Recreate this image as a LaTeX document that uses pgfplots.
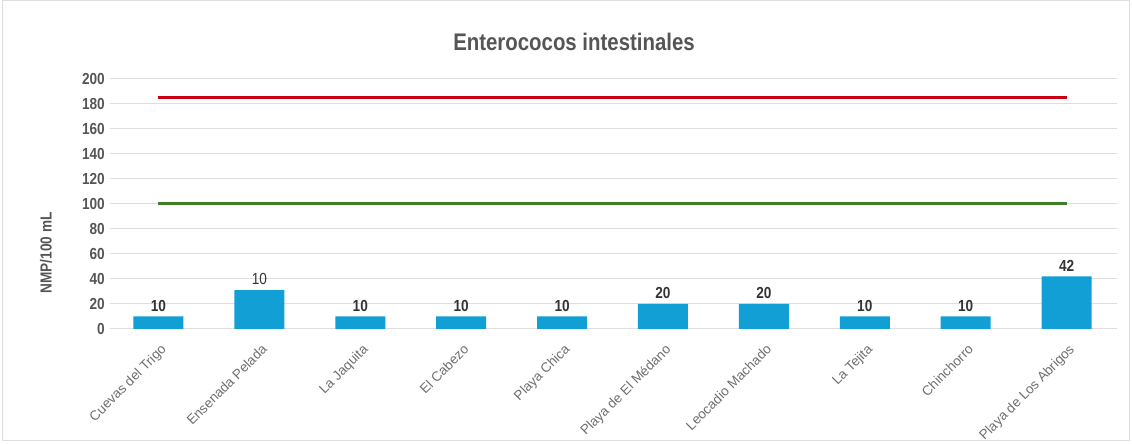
\documentclass[border=0pt]{standalone}
\usepackage{fontspec}
\setmainfont{Liberation Sans}
\newfontfamily\cond[FakeStretch=0.85]{Liberation Sans}
\usepackage{pgfplots}
\pgfplotsset{compat=1.18}
\definecolor{barblue}{HTML}{129FD6}
\definecolor{limred}{HTML}{C80010}
\definecolor{limgreen}{HTML}{3C7F25}
\definecolor{txtgray}{HTML}{555555}
\definecolor{lblgray}{HTML}{6E6E6E}
\definecolor{gridgray}{HTML}{DEDEDE}
\begin{document}
\begin{tikzpicture}
\useasboundingbox (0,0) rectangle (1132pt,444pt);
\draw[color=gridgray, line width=1pt] (2pt,3pt) rectangle (1129.5pt,443.5pt);
\node[font=\cond\bfseries\fontsize{24}{28}\selectfont, text=txtgray] at (574pt,402pt) {Enterococos intestinales};
\node[rotate=90, font=\cond\bfseries\fontsize{16}{19}\selectfont, text=txtgray] at (46pt,191pt) {NMP/100 mL};
\begin{axis}[
  at={(110pt,115pt)}, anchor=south west,
  scale only axis, width=1007pt, height=250pt,
  xmin=-0.48, xmax=9.5, ymin=0, ymax=200,
  axis line style={draw=none},
  tick style={draw=none},
  ymajorgrids, major grid style={color=gridgray, line width=1pt},
  ytick={0,20,...,200},
  xtick={0,...,9},
  xticklabels={Cuevas del Trigo, Ensenada Pelada, La Jaquita, El Cabezo, Playa Chica, Playa de El Médano, Leocadio Machado, La Tejita, Chinchorro, Playa de Los Abrigos},
  /pgf/number format/assume math mode=true,
  yticklabel style={font=\cond\bfseries\fontsize{16}{19}\selectfont, text=txtgray, inner sep=0pt, anchor=east, xshift=-5pt},
  xticklabel style={font=\fontsize{13.5}{16}\selectfont, text=lblgray, rotate=45, anchor=north east, inner sep=0pt, xshift=-9pt, yshift=-11pt},
  major tick length=0pt,
  clip=false,
]
\addplot[ybar, bar width=50pt, fill=barblue, draw=none,
  point meta=explicit symbolic,
  nodes near coords,
  nodes near coords style={font=\cond\bfseries\fontsize{16}{19}\selectfont, text=black!80, inner sep=0pt, anchor=south, yshift=5pt}]
  coordinates {
    (0,10) [10]
    (1,31) [\mdseries 10]
    (2,10) [10]
    (3,10) [10]
    (4,10) [10]
    (5,20) [20]
    (6,20) [20]
    (7,10) [10]
    (8,10) [10]
    (9,42) [42]
  };
\addplot[color=limred, line width=3pt, mark=none] coordinates {(0,185) (9,185)};
\addplot[color=limgreen, line width=3pt, mark=none] coordinates {(0,100) (9,100)};
\end{axis}
\end{tikzpicture}
\end{document}
